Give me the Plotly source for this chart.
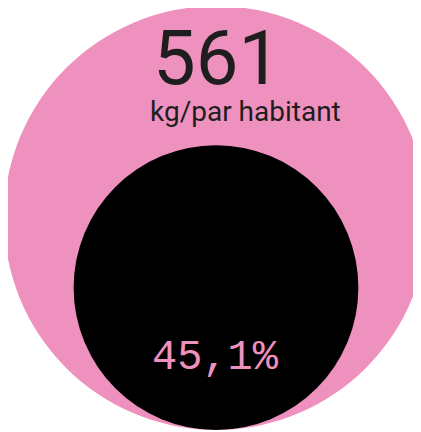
import math
import plotly.graph_objects as go

# Data
total_kg = 561            # kg per inhabitant (pink circle)
share_pct = 45.1          # share shown by black circle (%)
neighbor_kg = 409         # partially visible neighbour circle (yellow), estimated
value_label = "561"
unit_label = "kg/par habitant"
share_label = "45,1%"

PINK = "#EE91BE"
BLACK = "#000000"
YELLOW = "#F5E600"
TEXT = "#1E1E1E"

# scale: radius in axis units per sqrt(kg)
R_main = 212.0
k = R_main / math.sqrt(total_kg)
cx, cy_bottom = 216.0, 430.0

r_pink = k * math.sqrt(total_kg)
r_black = r_pink * math.sqrt(share_pct / 100.0)
r_yellow = k * math.sqrt(neighbor_kg)

pink_cy = cy_bottom - r_pink
black_cy = cy_bottom - r_black
yellow_cx, yellow_cy = 3.0 - r_yellow, 183.0

fig = go.Figure()
shapes = [
    dict(type="circle", xref="x", yref="y", x0=yellow_cx - r_yellow, x1=yellow_cx + r_yellow,
         y0=yellow_cy - r_yellow, y1=yellow_cy + r_yellow, fillcolor=YELLOW, line=dict(width=0)),
    dict(type="circle", xref="x", yref="y", x0=cx - r_pink, x1=cx + r_pink,
         y0=pink_cy - r_pink, y1=pink_cy + r_pink, fillcolor=PINK, line=dict(width=0)),
    dict(type="circle", xref="x", yref="y", x0=cx - r_black, x1=cx + r_black,
         y0=black_cy - r_black, y1=black_cy + r_black, fillcolor=BLACK, line=dict(width=0)),
]

annotations = [
    dict(x=217, y=58, xref="x", yref="y", text=value_label, showarrow=False,
         font=dict(family="Roboto", size=76, color=TEXT), xanchor="center", yanchor="middle"),
    dict(x=148, y=111, xref="x", yref="y", text=unit_label, showarrow=False,
         font=dict(family="Roboto", size=28, color=TEXT), xanchor="left", yanchor="middle"),
    dict(x=215, y=358, xref="x", yref="y", text=share_label, showarrow=False,
         font=dict(family="Liberation Mono", size=42, color=PINK), xanchor="center", yanchor="middle"),
]

# page body has an 8px margin: shift axis ranges so axis units equal screen pixels
OFF = 8
fig.update_layout(
    width=421, height=432,
    margin=dict(l=0, r=0, t=0, b=0),
    paper_bgcolor="white", plot_bgcolor="white",
    xaxis=dict(range=[OFF, 421 + OFF], visible=False, fixedrange=True),
    yaxis=dict(range=[432 + OFF, OFF], visible=False, fixedrange=True),
    shapes=shapes, annotations=annotations, showlegend=False,
)
fig.write_html("out.html")
